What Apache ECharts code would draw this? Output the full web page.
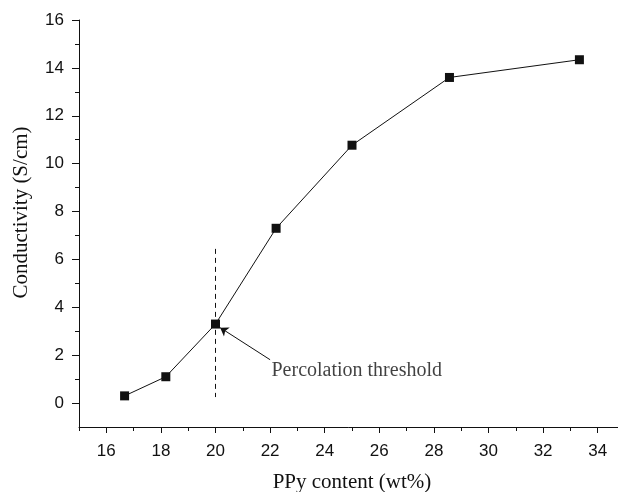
<!DOCTYPE html>
<html><head><meta charset="utf-8">
<script src="https://cdn.jsdelivr.net/npm/echarts@6/dist/echarts.min.js"></script>
<style>html,body{margin:0;padding:0;background:#fff}#c{width:618px;height:492px}</style>
</head><body><div id="c"></div>
<script>
const ppyContent = [16.67, 18.18, 20.0, 22.22, 25.0, 28.57, 33.33];
const conductivity = [0.30, 1.10, 3.30, 7.30, 10.77, 13.60, 14.34];
const xTickLabels = [16, 18, 20, 22, 24, 26, 28, 30, 32, 34];
const xMinorTicks = [15, 17, 19, 21, 23, 25, 27, 29, 31, 33, 35];
const yTickLabels = [0, 2, 4, 6, 8, 10, 12, 14, 16];
const yMinorTicks = [1, 3, 5, 7, 9, 11, 13, 15];
const thresholdLine = [[20, 6.44], [20, 0.25]];
const arrowFrom = [22.0, 1.81];
const arrowTo = [20.17, 3.15];
const annotationText = 'Percolation threshold';
const annotationPos = [22.05, 1.35];

const chart = echarts.init(document.getElementById('c'), null, {renderer: 'canvas'});
const ink = '#111';
const sans = 'Liberation Sans';
const serif = 'Liberation Serif';
const lineStyle = {color: ink, width: 1};

chart.setOption({
  animation: false,
  backgroundColor: '#fff',
  grid: {left: 79, top: 20, right: -7, bottom: 65, containLabel: false, outerBoundsMode: 'none'},
  xAxis: [{
    type: 'value', min: 15, max: 35,
    name: 'PPy content (wt%)', nameLocation: 'middle', nameGap: 45,
    nameTextStyle: {fontFamily: serif, fontSize: 21, color: ink},
    axisLine: {show: true, onZero: false, lineStyle: lineStyle},
    axisTick: {show: true, inside: false, length: 6, customValues: xTickLabels, lineStyle: lineStyle},
    axisLabel: {show: true, margin: 16, customValues: xTickLabels, fontFamily: sans, fontSize: 17, color: ink},
    splitLine: {show: false}
  }, {
    type: 'value', min: 15, max: 35, position: 'bottom',
    axisLine: {show: false, onZero: false},
    axisTick: {show: true, length: 4, customValues: xMinorTicks, lineStyle: lineStyle},
    axisLabel: {show: false},
    splitLine: {show: false}
  }],
  yAxis: [{
    type: 'value', min: -1, max: 16,
    name: 'Conductivity (S/cm)', nameLocation: 'middle', nameGap: 47, nameRotate: 90,
    nameTextStyle: {fontFamily: serif, fontSize: 21, color: ink, padding: [0, 0, 0, 22]},
    axisLine: {show: true, onZero: false, lineStyle: lineStyle},
    axisTick: {show: true, length: 7, customValues: yTickLabels, lineStyle: lineStyle},
    axisLabel: {show: true, margin: 15, customValues: yTickLabels, fontFamily: sans, fontSize: 17, color: ink},
    splitLine: {show: false}
  }, {
    type: 'value', min: -1, max: 16, position: 'left',
    axisLine: {show: false, onZero: false},
    axisTick: {show: true, length: 4, customValues: yMinorTicks, lineStyle: lineStyle},
    axisLabel: {show: false},
    splitLine: {show: false}
  }],
  series: [{
    type: 'line',
    data: ppyContent.map((x, i) => [x, conductivity[i]]),
    symbol: 'rect', symbolSize: 9,
    itemStyle: {color: '#111'},
    lineStyle: {color: ink, width: 1},
    z: 5
  }, {
    type: 'line',
    data: thresholdLine,
    symbol: 'none',
    lineStyle: {color: ink, width: 1, type: [5, 4]},
    z: 3
  }, {
    type: 'lines',
    coordinateSystem: 'cartesian2d',
    data: [{coords: [arrowFrom, arrowTo]}],
    symbol: ['none', 'arrow'], symbolSize: 8,
    lineStyle: {color: ink, width: 1, opacity: 1},
    z: 4
  }, {
    type: 'scatter',
    data: [annotationPos],
    symbolSize: 0,
    label: {show: true, position: 'right', distance: 0, formatter: annotationText,
      fontFamily: serif, fontSize: 20, color: ink},
    silent: true
  }]
});
</script>
</body></html>
